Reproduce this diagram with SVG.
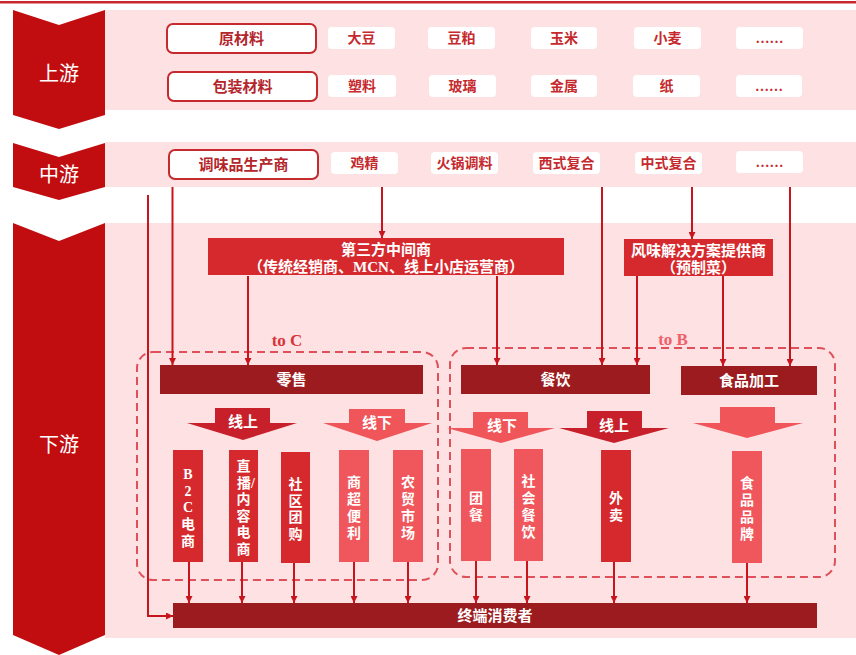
<svg xmlns="http://www.w3.org/2000/svg" width="856" height="655" viewBox="0 0 856 655">
<defs>
<marker id="ah" viewBox="0 0 10 10" refX="10" refY="5" markerWidth="8" markerHeight="7" markerUnits="userSpaceOnUse" orient="auto"><path d="M0,0 L10,5 L0,10 z" fill="#c8141c"/></marker>
</defs>
<style>
text{font-family:"Liberation Serif","Noto Sans CJK SC",serif;text-anchor:middle;dominant-baseline:central}
.band{fill:#fde1e3}
.chev{fill:#c20d10}
.stage{fill:#fff;font-size:20px;font-family:"Noto Sans CJK SC",sans-serif}
.mainbox{fill:#fff;stroke:#c42a2e;stroke-width:2}
.mainlbl{fill:#b3262b;font-size:15px;font-weight:bold}
.sbox{fill:#fff}
.slbl{fill:#c62a2e;font-size:14px;font-weight:bold}
.redbox{fill:#d6292d}
.darkbar{fill:#9b1b1e}
.light{fill:#f0575c}
.wlbl{fill:#fff;font-size:15px;font-weight:bold}
.vlbl{fill:#fff;font-size:14px;font-weight:bold}
.conn{stroke:#c8141c;stroke-width:2;fill:none;marker-end:url(#ah)}
.dash{fill:none;stroke:#e0505a;stroke-width:2;stroke-dasharray:8 5}
</style>
<rect x="0" y="0" width="856" height="655" fill="#fff"/>
<rect x="0" y="1" width="856" height="2.5" fill="#c8282c"/>

<g id="bands">
<rect class="band" x="105" y="10" width="751" height="100"/>
<rect class="band" x="105" y="142" width="751" height="45"/>
<rect class="band" x="105" y="223" width="751" height="415"/>
</g>

<g id="stage-up"><polygon class="chev" points="13,10 59,25 105,10 105,115 59,129 13,115"/><text class="stage" x="59" y="72">上游</text></g>
<g id="stage-mid"><polygon class="chev" points="13,143 59,157 105,143 105,187 59,200 13,187"/><text class="stage" x="59" y="173">中游</text></g>
<g id="stage-down"><polygon class="chev" points="13,223 59,241 105,223 105,635 59,655 13,635"/><text class="stage" x="59" y="443">下游</text></g>

<g id="raw"><rect class="mainbox" x="167" y="24" width="149" height="29" rx="6"/><text class="mainlbl" x="241.5" y="38.5">原材料</text></g>
<g id="pack"><rect class="mainbox" x="168" y="72" width="149" height="29" rx="6"/><text class="mainlbl" x="242.5" y="86.5">包装材料</text></g>
<g id="maker"><rect class="mainbox" x="169" y="150" width="149" height="29" rx="6"/><text class="mainlbl" x="243.5" y="164.5">调味品生产商</text></g>

<g id="soy"><rect class="sbox" x="328" y="27" width="67" height="22" rx="4"/><text class="slbl" x="361.5" y="38">大豆</text></g>
<g id="meal"><rect class="sbox" x="428" y="27" width="67" height="22" rx="4"/><text class="slbl" x="461.5" y="38">豆粕</text></g>
<g id="corn"><rect class="sbox" x="531" y="27" width="66" height="22" rx="4"/><text class="slbl" x="564" y="38">玉米</text></g>
<g id="wheat"><rect class="sbox" x="634" y="27" width="67" height="22" rx="4"/><text class="slbl" x="667.5" y="38">小麦</text></g>
<g id="more1"><rect class="sbox" x="736" y="27" width="67" height="22" rx="4"/><text class="slbl" x="769.5" y="38">……</text></g>

<g id="plastic"><rect class="sbox" x="328" y="75" width="68" height="22" rx="4"/><text class="slbl" x="362" y="86">塑料</text></g>
<g id="glass"><rect class="sbox" x="429" y="75" width="67" height="22" rx="4"/><text class="slbl" x="462.5" y="86">玻璃</text></g>
<g id="metal"><rect class="sbox" x="531" y="75" width="66" height="22" rx="4"/><text class="slbl" x="564" y="86">金属</text></g>
<g id="paper"><rect class="sbox" x="633" y="75" width="67" height="22" rx="4"/><text class="slbl" x="666.5" y="86">纸</text></g>
<g id="more2"><rect class="sbox" x="736" y="75" width="66" height="22" rx="4"/><text class="slbl" x="769" y="86">……</text></g>

<g id="chicken"><rect class="sbox" x="331" y="152" width="67" height="22" rx="4"/><text class="slbl" x="364.5" y="163">鸡精</text></g>
<g id="hotpot"><rect class="sbox" x="431" y="152" width="67" height="22" rx="4"/><text class="slbl" x="464.5" y="163">火锅调料</text></g>
<g id="western"><rect class="sbox" x="533" y="152" width="67" height="22" rx="4"/><text class="slbl" x="566.5" y="163">西式复合</text></g>
<g id="chinese"><rect class="sbox" x="635" y="152" width="67" height="22" rx="4"/><text class="slbl" x="668.5" y="163">中式复合</text></g>
<g id="more3"><rect class="sbox" x="736" y="151" width="67" height="22" rx="4"/><text class="slbl" x="769.5" y="162">……</text></g>

<g id="thirdparty"><rect class="redbox" x="208" y="238" width="356" height="37"/><text class="wlbl" x="386" y="250">第三方中间商</text><text class="wlbl" x="386" y="267">（传统经销商、MCN、线上小店运营商）</text></g>
<g id="flavor"><rect class="redbox" x="624" y="239" width="149" height="37"/><text class="wlbl" x="698.5" y="251">风味解决方案提供商</text><text class="wlbl" x="698.5" y="268">（预制菜）</text></g>

<g id="toC"><rect class="dash" x="137" y="352" width="301" height="228" rx="16"/><text x="287" y="340" fill="#d8333a" font-size="17" font-weight="bold">to C</text></g>
<g id="toB"><rect class="dash" x="450" y="348" width="385" height="229" rx="16"/><text x="673" y="339" fill="#f06068" font-size="17" font-weight="bold">to B</text></g>

<g id="retail"><rect class="darkbar" x="160" y="365" width="263" height="29"/><text class="wlbl" x="291.5" y="379.5">零售</text></g>
<g id="catering"><rect class="darkbar" x="461" y="365" width="189" height="29"/><text class="wlbl" x="555.5" y="379.5">餐饮</text></g>
<g id="foodproc"><rect class="darkbar" x="681" y="366" width="136" height="29"/><text class="wlbl" x="749" y="380.5" font-size="16">食品加工</text></g>

<g id="arr-online-r"><path d="M215,408 H270 V423 H297 L243,440 L187,423 H215 Z" fill="#c8202a"/><text class="wlbl" x="243" y="422">线上</text></g>
<g id="arr-offline-r"><path d="M349,409 H405 V423 H432 L377,441 L323,423 H349 Z" fill="#f0555a"/><text class="wlbl" x="377" y="423">线下</text></g>
<g id="arr-offline-c"><path d="M473,412 H528 V428 H555 L501,443 L447,428 H473 Z" fill="#f0555a"/><text class="wlbl" x="502" y="426">线下</text></g>
<g id="arr-online-c"><path d="M587,411 H642 V428 H669 L614,443 L559,428 H587 Z" fill="#c8202a"/><text class="wlbl" x="614" y="426">线上</text></g>
<g id="arr-food"><path d="M720,407 H775 V423 H803 L747,438 L693,423 H720 Z" fill="#f0555a"/></g>

<g id="b2c"><rect class="redbox" x="173" y="450" width="30" height="112"/><text class="vlbl" x="188" y="474"><tspan x="188">B</tspan><tspan x="188" dy="16.5">2</tspan><tspan x="188" dy="16.5">C</tspan><tspan x="188" dy="17">电</tspan><tspan x="188" dy="17">商</tspan></text></g>
<g id="live"><rect class="redbox" x="229" y="450" width="29" height="112"/><text class="vlbl" x="243.5" y="466"><tspan x="243.5">直</tspan><tspan x="246" dy="16.5">播/</tspan><tspan x="243.5" dy="16.5">内</tspan><tspan x="243.5" dy="16.5">容</tspan><tspan x="243.5" dy="16.5">电</tspan><tspan x="243.5" dy="16.5">商</tspan></text></g>
<g id="group"><rect class="redbox" x="281" y="452" width="29" height="111"/><text class="vlbl" x="295.5" y="484"><tspan x="295.5">社</tspan><tspan x="295.5" dy="16.5">区</tspan><tspan x="295.5" dy="16.5">团</tspan><tspan x="295.5" dy="16.5">购</tspan></text></g>
<g id="super"><rect class="light" x="339" y="450" width="30" height="112"/><text class="vlbl" x="354" y="482"><tspan x="354">商</tspan><tspan x="354" dy="17">超</tspan><tspan x="354" dy="17">便</tspan><tspan x="354" dy="17">利</tspan></text></g>
<g id="market"><rect class="light" x="393" y="450" width="30" height="112"/><text class="vlbl" x="408" y="482"><tspan x="408">农</tspan><tspan x="408" dy="17">贸</tspan><tspan x="408" dy="17">市</tspan><tspan x="408" dy="17">场</tspan></text></g>
<g id="canteen"><rect class="light" x="461" y="449" width="30" height="112"/><text class="vlbl" x="476" y="498"><tspan x="476">团</tspan><tspan x="476" dy="17">餐</tspan></text></g>
<g id="social"><rect class="light" x="514" y="449" width="29" height="112"/><text class="vlbl" x="528.5" y="481"><tspan x="528.5">社</tspan><tspan x="528.5" dy="17">会</tspan><tspan x="528.5" dy="17">餐</tspan><tspan x="528.5" dy="17">饮</tspan></text></g>
<g id="takeout"><rect class="redbox" x="601" y="450" width="30" height="112"/><text class="vlbl" x="616" y="498"><tspan x="616">外</tspan><tspan x="616" dy="17">卖</tspan></text></g>
<g id="brand"><rect class="light" x="732" y="451" width="30" height="112"/><text class="vlbl" x="747" y="483"><tspan x="747">食</tspan><tspan x="747" dy="17">品</tspan><tspan x="747" dy="17">品</tspan><tspan x="747" dy="17">牌</tspan></text></g>

<g id="consumer"><rect class="darkbar" x="173" y="603" width="644" height="25"/><text class="wlbl" x="495" y="615.5" font-size="16">终端消费者</text></g>

<g id="connectors">
<path class="conn" d="M382,187 V238"/>
<path class="conn" d="M148,195 V616 H173"/>
<path class="conn" d="M172.5,187 V365"/>
<path class="conn" d="M248,276 V365"/>
<path class="conn" d="M497,276 V365"/>
<path class="conn" d="M602,187 V365"/>
<path class="conn" d="M692,187 V239"/>
<path class="conn" d="M637,276 V365"/>
<path class="conn" d="M723,276 V366"/>
<path class="conn" d="M790,187 V366"/>
<path class="conn" d="M189,562 V603"/>
<path class="conn" d="M242,562 V603"/>
<path class="conn" d="M294,563 V603"/>
<path class="conn" d="M354,562 V603"/>
<path class="conn" d="M408,562 V603"/>
<path class="conn" d="M476,561 V603"/>
<path class="conn" d="M527,561 V603"/>
<path class="conn" d="M614,562 V603"/>
<path class="conn" d="M747,563 V603"/>
</g>
</svg>
